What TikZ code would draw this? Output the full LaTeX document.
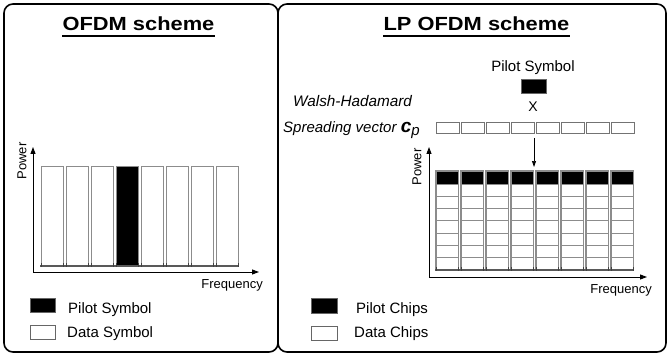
\documentclass[tikz,border=0pt]{standalone}
\usepackage{fontspec}
\setmainfont{Liberation Sans}
\usetikzlibrary{arrows.meta}

\begin{document}
\begin{tikzpicture}[x=1pt,y=-1pt,
    panel/.style={draw=black,line width=1.6pt,rounded corners=9pt},
    headline/.style={font=\fontsize{19}{22}\selectfont\bfseries,anchor=base,inner sep=0pt,xscale=1.15},
    legendtext/.style={font=\fontsize{15}{18}\selectfont,inner sep=0pt,anchor=base west},
    axistext/.style={font=\fontsize{13}{15}\selectfont,inner sep=0pt},
    axis/.style={-{Triangle[length=7pt,width=5pt]},line width=0.9pt},
    databar/.style={draw=black!45,fill=white,line width=0.9pt},
    pilotbar/.style={draw=black!45,fill=black,line width=0.9pt},
    keybox/.style={draw=black!60,line width=0.8pt,minimum width=25pt,minimum height=14pt,inner sep=0pt},
    baseline/.style={draw=black!65,line width=2pt}]
    \useasboundingbox (0,0) rectangle (668,358);
    \draw[panel] (4,4) rectangle (278,352);
    \draw[panel] (278,4) rectangle (666,352);
    \node[headline] (ofdmtitle) at (138.5,31) {OFDM scheme};
    \node[headline] (lptitle) at (476.5,31) {LP OFDM scheme};
    \draw[line width=1.5pt] ([yshift=-5pt]ofdmtitle.base west) -- ([yshift=-5pt]ofdmtitle.base east);
    \draw[line width=1.5pt] ([yshift=-5pt]lptitle.base west) -- ([yshift=-5pt]lptitle.base east);
    \foreach \i in {0,...,7}
        \draw[databar] ({41+25*\i},166) rectangle ++(22,100);
    \draw[pilotbar] (116,166) rectangle ++(22,100);
    \draw[baseline] (40,266) -- (239,266);
    \foreach \i in {0,...,7} {
        \draw[black!75,line width=1pt] ({41+25*\i},263) -- ++(0,4);
        \draw[black!75,line width=1pt] ({63+25*\i},263) -- ++(0,4);
    }
    \coordinate (origin1) at (33,272);
    \coordinate (ytip1) at (33,147);
    \coordinate (xtip1) at (259,272);
    \draw[axis] (origin1) -- (ytip1);
    \draw[axis] (origin1) -- (xtip1);
    \node[axistext,rotate=90] (power1) at (22,161) {Power};
    \node[axistext,anchor=base east] (freq1) at (263,288) {Frequency};
    \node[keybox,fill=black] (pilotkey1) at (42.5,305.5) {};
    \node[keybox,fill=white] (datakey1) at (42.5,332.5) {};
    \node[legendtext] (pilottext1) at (68,313) {Pilot Symbol};
    \node[legendtext] (datatext1) at (67,337) {Data Symbol};
    \node[legendtext,anchor=base] (pilotname) at (533,72) {Pilot Symbol};
    \node[keybox,fill=black,minimum width=25pt] (pilotsym) at (533.5,86) {};
    \node[axistext,font=\fontsize{14}{16}\selectfont,anchor=base] (times) at (533,112) {X};
    \node[legendtext,font=\fontsize{15.3}{18}\selectfont\itshape] (walsh) at (293,107) {Walsh-Hadamard};
    \node[legendtext,font=\fontsize{15}{18}\selectfont\itshape] (spread) at (283,132)
        {Spreading vector {\fontsize{19}{20}\selectfont\bfseries c}\raisebox{-3pt}{p}};
    \foreach \i in {0,...,7}
        \node[keybox,draw=black!55,minimum width=22.5pt,minimum height=11pt,anchor=north west] (sv\i) at ({436+25*\i},122) {};
    \coordinate (spreadout) at (534,138);
    \coordinate (chipsin) at (534,167);
    \draw[axis,line width=0.7pt,-{Triangle[length=6pt,width=4pt]}] (spreadout) -- (chipsin);
    \foreach \i in {0,...,7} {
        \draw[pilotbar] ({436+25*\i},171) rectangle ++(22.5,13);
        \foreach \j in {0,...,6}
            \draw[databar] ({436+25*\i},{184+12.29*\j}) rectangle ++(22.5,12.29);
        \draw[black!45,line width=1.4pt] ({436+25*\i},171) rectangle ++(22.5,99);
    }
    \draw[baseline] (435,270) -- (634,270);
    \foreach \i in {0,...,7} {
        \draw[black!75,line width=1pt] ({436+25*\i},267) -- ++(0,4);
        \draw[black!75,line width=1pt] ({458.5+25*\i},267) -- ++(0,4);
    }
    \coordinate (origin2) at (429,277);
    \coordinate (ytip2) at (429,147);
    \coordinate (xtip2) at (647,277);
    \draw[axis] (origin2) -- (ytip2);
    \draw[axis] (origin2) -- (xtip2);
    \node[axistext,rotate=90] (power2) at (417,167) {Power};
    \node[axistext,anchor=base east] (freq2) at (652,293) {Frequency};
    \node[keybox,fill=black,minimum width=26pt,minimum height=15pt] (pilotkey2) at (324,305.5) {};
    \node[keybox,fill=white,minimum width=26pt] (datakey2) at (324,333) {};
    \node[legendtext] (pilottext2) at (356,313) {Pilot Chips};
    \node[legendtext] (datatext2) at (354,337) {Data Chips};
\end{tikzpicture}
\end{document}
